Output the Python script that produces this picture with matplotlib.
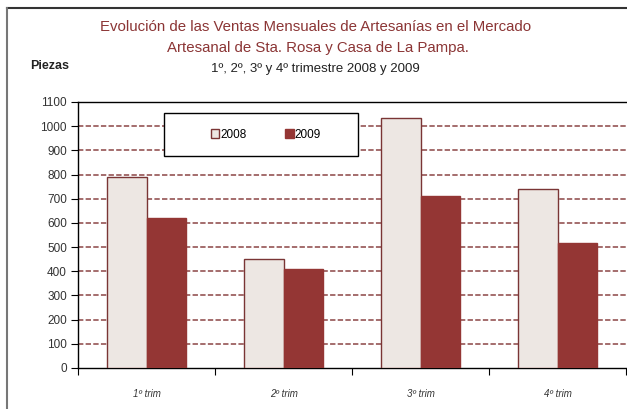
import matplotlib
matplotlib.use("Agg")
import matplotlib.pyplot as plt
from matplotlib.lines import Line2D
from matplotlib.patches import Rectangle
import numpy as np

categories = ["1º trim", "2º trim", "3º trim", "4º trim"]
series_names = ["2008", "2009"]
values_2008 = [790, 450, 1035, 740]
values_2009 = [620, 410, 710, 515]
yticks = list(range(0, 1101, 100))

plt.rcParams['font.family'] = ['Liberation Sans', 'DejaVu Sans']

W, H = 627, 409
fig = plt.figure(figsize=(W/100, H/100), dpi=100)
ax = fig.add_axes([78/W, 1-368/H, 548/W, (368-102)/H])

x = np.arange(len(categories))
w = 0.285
light = "#EDE7E3"
dark = "#943634"
edge = "#7A3535"
ax.bar(x - w/2, values_2008, w, color=light, edgecolor=edge, linewidth=1.0, label=series_names[0], zorder=3)
ax.bar(x + w/2, values_2009, w, color=dark, edgecolor=dark, linewidth=1.0, label=series_names[1], zorder=3)

ax.set_xlim(-0.5, 3.5)
ax.set_ylim(0, 1100)
ax.set_yticks(yticks)
ax.set_yticklabels([str(v) for v in yticks], fontsize=8.5, color="#333333")
for v in yticks[1:-1]:
    ax.axhline(v, color="#8B4545", linestyle=(0, (3.5, 1.5)), linewidth=1.1, zorder=1)

ax.set_xticks(np.arange(-0.5, 4.0, 1.0))
ax.set_xticklabels([])
ax.set_xticks(x, minor=True)
ax.set_xticklabels(categories, minor=True, fontsize=7, style='italic', color="#333333")
ax.tick_params(axis='x', which='minor', length=0, pad=15)
ax.tick_params(axis='x', which='major', length=5, direction='out', color='black')
ax.tick_params(axis='y', length=5, direction='out', color='black', pad=3)

for s in ['left', 'bottom', 'top']:
    ax.spines[s].set_color('black')
    ax.spines[s].set_linewidth(1.0)
ax.spines['right'].set_visible(False)

# legend box
lx0, lx1, ly0, ly1 = 164, 358, 113, 156
box = Rectangle((lx0/W, 1-ly1/H), (lx1-lx0)/W, (ly1-ly0)/H, transform=fig.transFigure,
                facecolor='white', edgecolor='black', linewidth=1.0, zorder=4)
ax.add_patch(box)
leg = ax.legend(loc='center', bbox_to_anchor=(266/W, 1-134.5/H), bbox_transform=fig.transFigure,
                ncol=2, frameon=False, fontsize=8.5,
                handlelength=0.7, handleheight=0.7, handletextpad=0.1, columnspacing=3.3,
                borderpad=0, borderaxespad=0)
leg.set_zorder(6)

title_color = "#8B3535"
fig.text(316/W, 1-27/H, "Evolución de las Ventas Mensuales de Artesanías en el Mercado",
         ha='center', va='center', fontsize=10.8, color=title_color)
fig.text(318/W, 1-48/H, "Artesanal de Sta. Rosa y Casa de La Pampa.",
         ha='center', va='center', fontsize=10.8, color=title_color)
fig.text(315/W, 1-69/H, "1º, 2º, 3º y 4º trimestre 2008 y 2009",
         ha='center', va='center', fontsize=9.5, color="#222222")
fig.text(50/W, 1-66/H, "Piezas", ha='center', va='center', fontsize=9,
         fontweight='bold', color="#222222")

# outer frame lines
fig.add_artist(Line2D([7/W, 1.0], [1-8/H, 1-8/H], transform=fig.transFigure, color='#333333', linewidth=1.5))
fig.add_artist(Line2D([7/W, 7/W], [0, 1-8/H], transform=fig.transFigure, color='#777777', linewidth=1.5))

fig.savefig("out.png", dpi=100)
